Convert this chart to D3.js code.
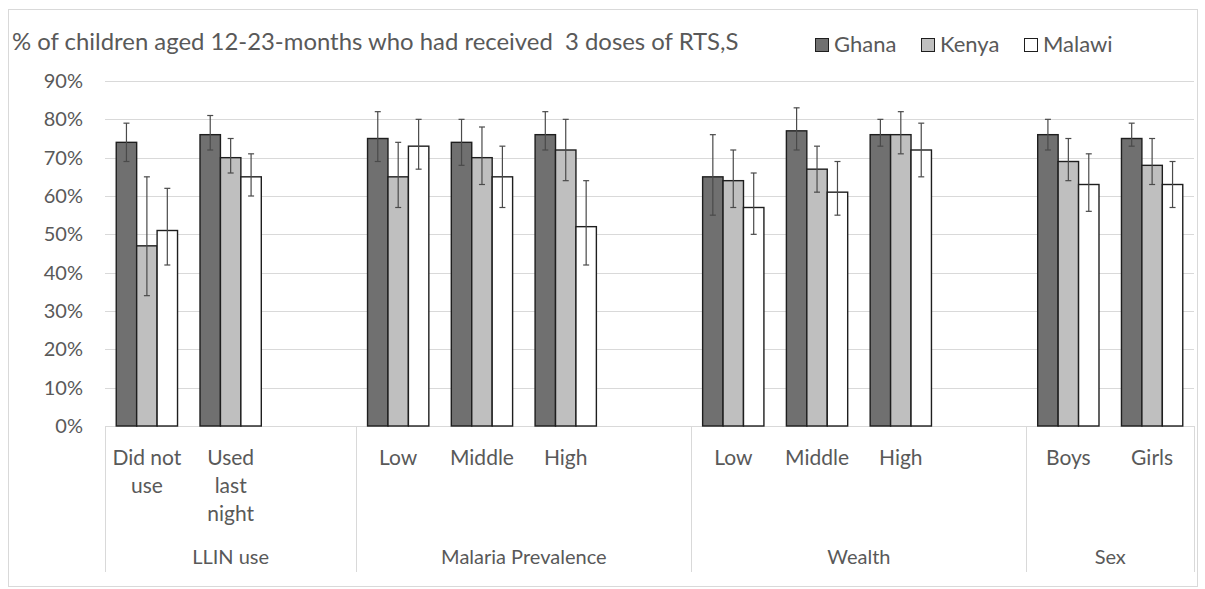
<!DOCTYPE html>
<html>
<head>
<meta charset="utf-8">
<script src="https://cdn.jsdelivr.net/npm/d3@7"></script>
<style>
  body { margin: 0; background: #fff; }
  text { font-family: "Lato", "Open Sans", sans-serif; fill: #595959; }
</style>
</head>
<body>
<svg id="chart" width="1205" height="589"></svg>
<script>
// category slots (blank slots give the gaps between groups)
var groups = ["LLIN use", "Malaria Prevalence", "Wealth", "Sex"];
var groupSlots = [3, 4, 4, 2];
var catLabels = [["Did not", "use"], ["Used", "last", "night"], [],
                 ["Low"], ["Middle"], ["High"], [],
                 ["Low"], ["Middle"], ["High"], [],
                 ["Boys"], ["Girls"]];

var seriesNames = ["Ghana", "Kenya", "Malawi"];
var seriesFill = ["#707070", "#bfbfbf", "#ffffff"];

// values in %, null = empty slot
var ghana  = [74, 76, null, 75, 74, 76, null, 65, 77, 76, null, 76, 75];
var kenya  = [47, 70, null, 65, 70, 72, null, 64, 67, 76, null, 69, 68];
var malawi = [51, 65, null, 73, 65, 52, null, 57, 61, 72, null, 63, 63];

// error bar bounds
var ghanaLo  = [69, 72, null, 69, 68, 72, null, 55, 72, 73, null, 72, 73];
var ghanaHi  = [79, 81, null, 82, 80, 82, null, 76, 83, 80, null, 80, 79];
var kenyaLo  = [34, 66, null, 57, 63, 64, null, 57, 61, 71, null, 64, 63];
var kenyaHi  = [65, 75, null, 74, 78, 80, null, 72, 73, 82, null, 75, 75];
var malawiLo = [42, 60, null, 67, 57, 42, null, 50, 55, 65, null, 56, 57];
var malawiHi = [62, 71, null, 80, 73, 64, null, 66, 69, 79, null, 71, 69];

var yTicks = [0, 10, 20, 30, 40, 50, 60, 70, 80, 90];

var values = [ghana, kenya, malawi];
var lows = [ghanaLo, kenyaLo, malawiLo];
var highs = [ghanaHi, kenyaHi, malawiHi];

var svg = d3.select("#chart");
var plotLeft = 105, plotRight = 1194, plotTop = 81, plotBottom = 426;

// chart border
svg.append("rect")
    .attr("x", 8.5).attr("y", 9.5)
    .attr("width", 1189).attr("height", 577)
    .attr("fill", "none")
    .attr("stroke", "#d9d9d9");

var slots = d3.range(catLabels.length);
var x = d3.scaleBand().domain(slots).range([plotLeft, plotRight]).padding(0);
var gap = x.bandwidth() * 1.1 / 4.1;
var xs = d3.scaleBand().domain(d3.range(3)).range([gap / 2, x.bandwidth() - gap / 2]).padding(0);
var y = d3.scaleLinear().domain([0, 90]).range([plotBottom, plotTop]);

// gridlines + y labels
svg.append("g").selectAll("line")
    .data(yTicks)
    .join("line")
    .attr("x1", plotLeft).attr("x2", plotRight)
    .attr("y1", function (d) { return Math.round(y(d)) + 0.5; })
    .attr("y2", function (d) { return Math.round(y(d)) + 0.5; })
    .attr("stroke", "#d9d9d9");

svg.append("g").selectAll("text")
    .data(yTicks)
    .join("text")
    .attr("x", 83)
    .attr("y", function (d) { return y(d) + 7; })
    .attr("text-anchor", "end")
    .style("font-size", "20px")
    .text(function (d) { return d + "%"; });

// bars
var series = svg.append("g");
values.forEach(function (vals, s) {
    series.append("g").selectAll("rect")
        .data(slots.filter(function (i) { return vals[i] !== null; }))
        .join("rect")
        .attr("x", function (i) { return x(i) + xs(s); })
        .attr("y", function (i) { return y(vals[i]); })
        .attr("width", xs.bandwidth())
        .attr("height", function (i) { return y(0) - y(vals[i]); })
        .attr("fill", seriesFill[s])
        .attr("stroke", "#1e1e1e")
        .attr("stroke-width", 1.4);
});

// error bars
values.forEach(function (vals, s) {
    var g = svg.append("g").attr("stroke", "#4a4a4a").attr("stroke-width", 1.2);
    slots.filter(function (i) { return vals[i] !== null; }).forEach(function (i) {
        var cx = x(i) + xs(s) + xs.bandwidth() / 2;
        g.append("line").attr("x1", cx).attr("x2", cx)
            .attr("y1", y(lows[s][i])).attr("y2", y(highs[s][i]));
        [lows[s][i], highs[s][i]].forEach(function (v) {
            g.append("line").attr("x1", cx - 3).attr("x2", cx + 3)
                .attr("y1", y(v)).attr("y2", y(v));
        });
    });
});

// multi-level category axis
var sepY2 = 572;
var bounds = [0];
groupSlots.forEach(function (n, i) { bounds.push(bounds[i] + n); });
svg.append("g").selectAll("line")
    .data(bounds)
    .join("line")
    .attr("x1", function (b) { return Math.round(plotLeft + b * x.step()) + 0.5; })
    .attr("x2", function (b) { return Math.round(plotLeft + b * x.step()) + 0.5; })
    .attr("y1", plotBottom).attr("y2", sepY2)
    .attr("stroke", "#d9d9d9");

svg.append("g").selectAll("text")
    .data(slots.filter(function (i) { return catLabels[i].length; }))
    .join("text")
    .attr("text-anchor", "middle")
    .style("font-size", "21px")
    .each(function (i) {
        var t = d3.select(this);
        catLabels[i].forEach(function (line, k) {
            t.append("tspan")
                .attr("x", x(i) + x.bandwidth() / 2)
                .attr("y", 465 + k * 28)
                .text(line);
        });
    });

svg.append("g").selectAll("text")
    .data(groups)
    .join("text")
    .attr("x", function (d, i) { return plotLeft + (bounds[i] + bounds[i + 1]) / 2 * x.step(); })
    .attr("y", 564)
    .attr("text-anchor", "middle")
    .style("font-size", "20px")
    .text(function (d) { return d; });

// title, sized to span the same width as the original
var title = svg.append("text")
    .attr("x", 12).attr("y", 50)
    .style("font-size", "20px")
    .style("white-space", "pre")
    .text("% of children aged 12-23-months who had received  3 doses of RTS,S");
var tw = title.node().getComputedTextLength();
title.style("font-size", (20 * 726 / tw).toFixed(1) + "px");

// legend
var legendX = [815, 921, 1024];
var legend = svg.append("g");
seriesNames.forEach(function (name, s) {
    legend.append("rect")
        .attr("x", legendX[s] + 0.5).attr("y", 38.5)
        .attr("width", 13).attr("height", 13)
        .attr("fill", seriesFill[s])
        .attr("stroke", "#1e1e1e");
    legend.append("text")
        .attr("x", legendX[s] + 19).attr("y", 52)
        .style("font-size", "22px")
        .text(name);
});
</script>
</body>
</html>
